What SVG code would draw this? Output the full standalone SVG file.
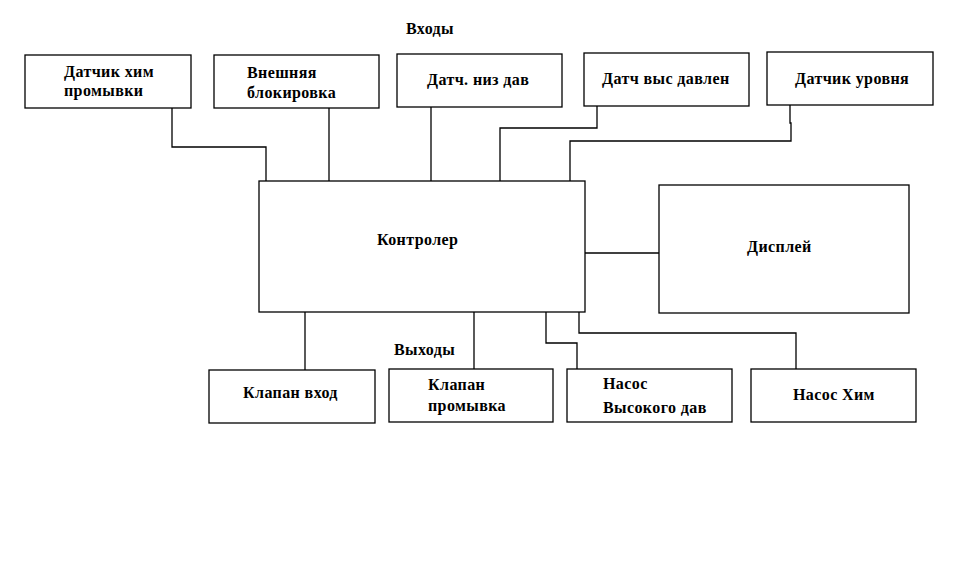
<svg xmlns="http://www.w3.org/2000/svg" width="956" height="571" viewBox="0 0 956 571">
<style>
.box{fill:#fff;stroke:#000;stroke-width:1.3}
.t{font-family:"Liberation Serif","Times New Roman",serif;font-weight:bold;font-size:16px;letter-spacing:0.4px;fill:#000}
.c{fill:none;stroke:#000;stroke-width:1.3}
</style>
<rect width="956" height="571" fill="#fff"/>
<g id="connectors">
<polyline class="c" points="172,108 172,147 266,147 266,181"/>
<polyline class="c" points="329,108 329,181"/>
<polyline class="c" points="431,107 431,181"/>
<polyline class="c" points="597,106 597,128 500,128 500,181"/>
<polyline class="c" points="790,105 790,123 791,123 791,141 570,141 570,181"/>
<polyline class="c" points="585,253 659,253"/>
<polyline class="c" points="305,312 305,370"/>
<polyline class="c" points="474,312 474,369"/>
<polyline class="c" points="546,312 546,343 577,343 577,369"/>
<polyline class="c" points="579,312 579,333 796,333 796,369"/>
</g>
<text class="t" x="406" y="34">Входы</text>
<text class="t" x="394" y="355">Выходы</text>
<g id="n1"><rect class="box" x="25" y="55" width="166" height="53"/><text class="t" x="64" y="77">Датчик хим</text><text class="t" x="64" y="96">промывки</text></g>
<g id="n2"><rect class="box" x="214" y="55" width="165" height="53"/><text class="t" x="247" y="78">Внешняя</text><text class="t" x="247" y="98">блокировка</text></g>
<g id="n3"><rect class="box" x="397" y="54" width="165" height="53"/><text class="t" x="427" y="85">Датч. низ дав</text></g>
<g id="n4"><rect class="box" x="584" y="53" width="165" height="53"/><text class="t" x="602" y="84">Датч выс давлен</text></g>
<g id="n5"><rect class="box" x="767" y="52" width="166" height="53"/><text class="t" x="795" y="84">Датчик уровня</text></g>
<g id="ctrl"><rect class="box" x="259" y="181" width="326" height="131"/><text class="t" x="377" y="245">Контролер</text></g>
<g id="disp"><rect class="box" x="659" y="185" width="250" height="128"/><text class="t" x="747" y="252">Дисплей</text></g>
<g id="o1"><rect class="box" x="209" y="370" width="166" height="53"/><text class="t" x="243" y="398">Клапан вход</text></g>
<g id="o2"><rect class="box" x="389" y="369" width="164" height="53"/><text class="t" x="428" y="390">Клапан</text><text class="t" x="428" y="411">промывка</text></g>
<g id="o3"><rect class="box" x="567" y="369" width="165" height="53"/><text class="t" x="603" y="389">Насос</text><text class="t" x="603" y="413">Высокого дав</text></g>
<g id="o4"><rect class="box" x="751" y="369" width="165" height="53"/><text class="t" x="793" y="400">Насос Хим</text></g>
</svg>
